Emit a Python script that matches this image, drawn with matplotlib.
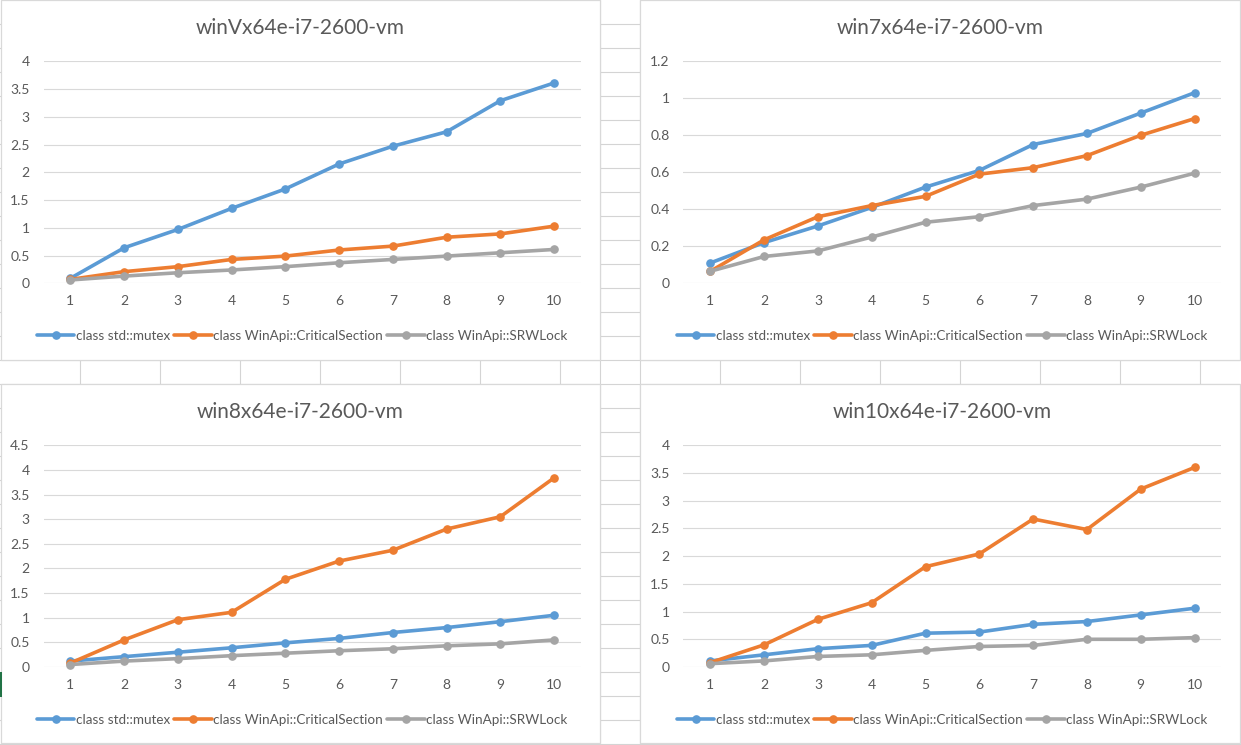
import matplotlib
matplotlib.use("Agg")
import matplotlib.pyplot as plt
from matplotlib.patches import Rectangle

# ---------------- data ----------------
threads = [1, 2, 3, 4, 5, 6, 7, 8, 9, 10]
series_names = ["class std::mutex", "class WinApi::CriticalSection", "class WinApi::SRWLock"]

titles = ["winVx64e-i7-2600-vm", "win7x64e-i7-2600-vm", "win8x64e-i7-2600-vm", "win10x64e-i7-2600-vm"]

winV_mutex = [0.09, 0.64, 0.97, 1.35, 1.70, 2.15, 2.47, 2.73, 3.29, 3.61]
winV_cs    = [0.07, 0.21, 0.30, 0.43, 0.49, 0.60, 0.67, 0.83, 0.89, 1.03]
winV_srw   = [0.06, 0.13, 0.19, 0.24, 0.30, 0.37, 0.43, 0.49, 0.55, 0.61]

win7_mutex = [0.11, 0.22, 0.31, 0.41, 0.52, 0.61, 0.75, 0.81, 0.92, 1.03]
win7_cs    = [0.065, 0.235, 0.36, 0.42, 0.47, 0.59, 0.625, 0.69, 0.80, 0.89]
win7_srw   = [0.065, 0.145, 0.175, 0.25, 0.33, 0.36, 0.42, 0.455, 0.52, 0.595]

win8_mutex = [0.12, 0.21, 0.30, 0.39, 0.49, 0.58, 0.70, 0.80, 0.92, 1.05]
win8_cs    = [0.08, 0.55, 0.96, 1.11, 1.78, 2.15, 2.37, 2.80, 3.05, 3.84]
win8_srw   = [0.05, 0.12, 0.17, 0.23, 0.28, 0.33, 0.37, 0.43, 0.47, 0.55]

win10_mutex = [0.11, 0.22, 0.33, 0.39, 0.61, 0.63, 0.77, 0.82, 0.94, 1.06]
win10_cs    = [0.08, 0.40, 0.86, 1.16, 1.81, 2.04, 2.67, 2.48, 3.21, 3.60]
win10_srw   = [0.06, 0.11, 0.19, 0.22, 0.30, 0.37, 0.39, 0.50, 0.50, 0.53]

yticks_V  = [0, 0.5, 1, 1.5, 2, 2.5, 3, 3.5, 4]
yticks_7  = [0, 0.2, 0.4, 0.6, 0.8, 1, 1.2]
yticks_8  = [0, 0.5, 1, 1.5, 2, 2.5, 3, 3.5, 4, 4.5]
yticks_10 = [0, 0.5, 1, 1.5, 2, 2.5, 3, 3.5, 4]

# ---------------- style ----------------
W, H = 1241, 745
FONT = "Lato"
colors = ["#5B9BD5", "#ED7D31", "#A5A5A5"]
text_color = "#595959"
grid_color = "#D9D9D9"
sheet_color = "#D4D4D4"

plt.rcParams["font.family"] = [FONT, "DejaVu Sans"]

fig = plt.figure(figsize=(W / 100, H / 100), dpi=100)
fig.patch.set_facecolor("white")

# spreadsheet background
bg = fig.add_axes([0, 0, 1, 1])
bg.set_xlim(0, W)
bg.set_ylim(H, 0)
bg.axis("off")
cols = [80, 160, 240, 320, 400, 480, 560, 600, 640, 720, 800, 880, 960, 1040, 1120, 1200]
for cx in cols:
    bg.plot([cx, cx], [0, H], color=sheet_color, lw=0.8, zorder=1)
for ry in range(24, H, 24):
    bg.plot([0, W], [ry, ry], color=sheet_color, lw=0.8, zorder=1)

chart_boxes = [(1, 0, 600, 360), (640, 0, 1240, 360), (1, 384, 600, 743), (640, 384, 1240, 743)]
for (x0, y0, x1, y1) in chart_boxes:
    bg.add_patch(Rectangle((x0, y0), x1 - x0, y1 - y0, facecolor="white",
                           edgecolor=grid_color, lw=0.9, zorder=2))
bg.add_patch(Rectangle((0, 672), 2, 25, facecolor="#217346", edgecolor="none", zorder=3))

plot_boxes = [(43.5, 61.3, 581, 283.3), (683.4, 61.3, 1221.4, 283.3),
              (43.5, 445.3, 581, 667), (683.4, 445.3, 1221.4, 667)]
title_pos = [(300, 28), (940, 28), (300, 412), (942, 412)]
legend_pos = [(302, 335.5), (942, 335.5), (302, 719.5), (942, 719.5)]

data = [
    (winV_mutex, winV_cs, winV_srw, yticks_V),
    (win7_mutex, win7_cs, win7_srw, yticks_7),
    (win8_mutex, win8_cs, win8_srw, yticks_8),
    (win10_mutex, win10_cs, win10_srw, yticks_10),
]

for i, (m, c, s, yt) in enumerate(data):
    x0, y0, x1, y1 = plot_boxes[i]
    ax = fig.add_axes([x0 / W, 1 - y1 / H, (x1 - x0) / W, (y1 - y0) / H])
    ax.set_facecolor("none")
    for vals, col, name in zip((m, c, s), colors, series_names):
        ax.plot(threads, vals, color=col, lw=2.6, marker="o", markersize=5.2,
                solid_capstyle="round", solid_joinstyle="round", label=name,
                zorder=3, clip_on=False)
    ax.set_xlim(0.5, 10.5)
    ax.set_ylim(yt[0], yt[-1])
    ax.set_yticks(yt)
    ax.set_yticklabels([("%g" % v) for v in yt])
    ax.set_xticks(threads)
    ax.grid(axis="y", color=grid_color, lw=0.8, zorder=0)
    ax.set_axisbelow(True)
    for sp in ax.spines.values():
        sp.set_visible(False)
    ax.tick_params(axis="both", length=0, colors=text_color, labelsize=10)
    ax.tick_params(axis="y", pad=10)
    ax.tick_params(axis="x", pad=8.5)
    tx, ty = title_pos[i]
    fig.text(tx / W, 1 - ty / H, titles[i], ha="center", va="center",
             fontsize=15, color=text_color)
    lx, ly = legend_pos[i]
    leg = ax.legend(loc="center", bbox_to_anchor=(lx / W, 1 - ly / H),
                    bbox_transform=fig.transFigure, ncol=3, frameon=False,
                    fontsize=9.7, handlelength=2.8, handletextpad=0.1,
                    columnspacing=0.3, borderpad=0)
    for t in leg.get_texts():
        t.set_color(text_color)

fig.savefig("out.png", dpi=100)
